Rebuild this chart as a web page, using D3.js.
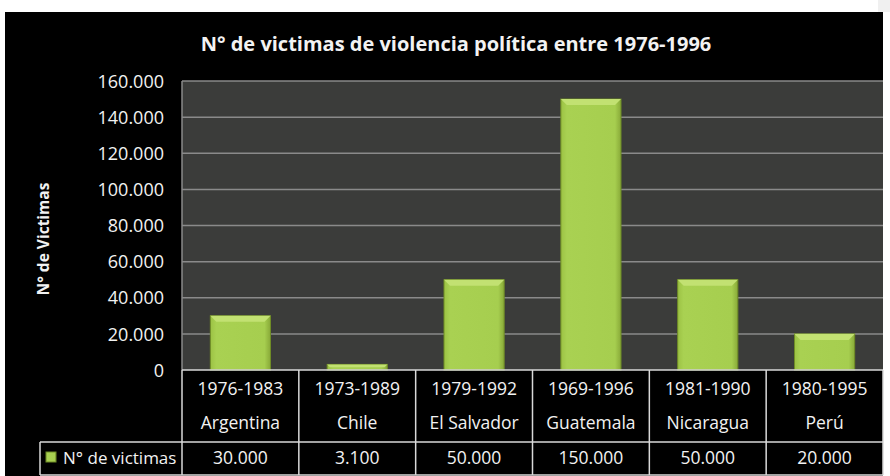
<!DOCTYPE html>
<html>
<head>
<meta charset="utf-8">
<script src="https://cdn.jsdelivr.net/npm/d3@7"></script>
<style>
  body { margin: 0; background: #fff; }
  svg text { font-family: "Open Sans", sans-serif; fill: #f2f2f2; }
</style>
</head>
<body>
<svg id="chart" width="890" height="476"></svg>
<script>
// data
let countries = ["Argentina", "Chile", "El Salvador", "Guatemala", "Nicaragua", "Perú"]
let periods = ["1976-1983", "1973-1989", "1979-1992", "1969-1996", "1981-1990", "1980-1995"]
let victims = [30000, 3100, 50000, 150000, 50000, 20000]
let yTicks = [0, 20000, 40000, 60000, 80000, 100000, 120000, 140000, 160000]
let seriesName = "N° de victimas"
let title = "N° de victimas de violencia política entre 1976-1996"
let yTitle = "N° de Victimas"

let svg = d3.select("#chart")

let plotLeft = 182, plotRight = 883, plotTop = 81, plotBottom = 370
let rowMid = 442, tableBottom = 475, legendLeft = 40

let loc = d3.formatLocale({decimal: ",", thousands: ".", grouping: [3], currency: ["", ""]})
let fmt = loc.format(",d")

// background
svg.append("rect").attr("x", 5).attr("y", 12).attr("width", 878).attr("height", 464).attr("fill", "#000")
svg.append("rect").attr("x", 878).attr("y", 0).attr("width", 12).attr("height", 12).attr("fill", "#f0f0f0")

let defs = svg.append("defs")
let grad = defs.append("linearGradient").attr("id", "barGrad").attr("x1", 0).attr("x2", 1).attr("y1", 0).attr("y2", 0)
grad.append("stop").attr("offset", "0%").attr("stop-color", "#9cc244")
grad.append("stop").attr("offset", "10%").attr("stop-color", "#a9d152")
grad.append("stop").attr("offset", "90%").attr("stop-color", "#a6ce4f")
grad.append("stop").attr("offset", "100%").attr("stop-color", "#88a938")

let colScale = d3.scaleBand().domain(countries).range([plotLeft, plotRight]).padding(0)
let xScale = d3.scaleBand().domain(countries).range([plotLeft, plotRight]).paddingInner(0.485).paddingOuter(0.2425)
let yScale = d3.scaleLinear().domain([0, 160000]).range([plotBottom, plotTop])

// plot area
svg.append("rect").attr("x", plotLeft).attr("y", plotTop).attr("width", plotRight - plotLeft).attr("height", plotBottom - plotTop)
   .attr("fill", "#3b3c3a")

svg.append("g").selectAll("line").data(yTicks.filter(d => d > 0)).join("line")
   .attr("x1", plotLeft).attr("x2", plotRight)
   .attr("y1", d => yScale(d)).attr("y2", d => yScale(d))
   .attr("stroke", "#8a8a8a").attr("stroke-width", 1.5)
svg.append("line").attr("x1", plotLeft).attr("x2", plotLeft).attr("y1", plotTop).attr("y2", plotBottom)
   .attr("stroke", "#8a8a8a").attr("stroke-width", 1.5)

// y axis labels
let yAxis = d3.axisLeft(yScale).tickValues(yTicks).tickFormat(fmt).tickSize(0).tickPadding(18)
let yg = svg.append("g").attr("transform", "translate(" + plotLeft + ",0)").call(yAxis)
yg.select(".domain").remove()
yg.selectAll("text").style("font-size", "18px").style("font-family", "'Open Sans', sans-serif").attr("fill", "#f2f2f2").attr("dy", "0.34em")

svg.append("text").text(yTitle).attr("transform", "translate(49,239) rotate(-90)")
   .attr("text-anchor", "middle").style("font-size", "15.5px").style("font-weight", "bold")

// title
svg.append("text").text(title).attr("x", 456).attr("y", 51).attr("text-anchor", "middle")
   .style("font-size", "20px").style("font-weight", "bold")

// bars
let rows = countries.map((c, i) => ({country: c, value: victims[i]}))
let bars = svg.append("g").selectAll("g").data(rows).join("g")
bars.append("rect")
    .attr("x", d => xScale(d.country)).attr("width", xScale.bandwidth())
    .attr("y", d => yScale(d.value)).attr("height", d => plotBottom - yScale(d.value))
    .attr("fill", "url(#barGrad)").attr("stroke", "#6f8c26").attr("stroke-width", 1)
// top bevel
bars.append("path")
    .attr("d", d => {
        let x0 = xScale(d.country), x1 = x0 + xScale.bandwidth(), y0 = yScale(d.value)
        let b = Math.min(6, (plotBottom - y0) / 2)
        return "M" + x0 + "," + y0 + "L" + x1 + "," + y0 + "L" + (x1 - b) + "," + (y0 + b) + "L" + (x0 + b) + "," + (y0 + b) + "Z"
    })
    .attr("fill", "#c2e172").attr("stroke", "none")

// table
let tbl = svg.append("g")
let lineC = "#d9d9d9"
tbl.append("line").attr("x1", plotLeft).attr("x2", plotRight).attr("y1", plotBottom).attr("y2", plotBottom).attr("stroke", lineC).attr("stroke-width", 1.5)
tbl.append("line").attr("x1", legendLeft).attr("x2", plotRight).attr("y1", rowMid).attr("y2", rowMid).attr("stroke", lineC).attr("stroke-width", 1.5)
tbl.append("line").attr("x1", legendLeft).attr("x2", plotRight).attr("y1", tableBottom).attr("y2", tableBottom).attr("stroke", lineC).attr("stroke-width", 1.5)
tbl.append("line").attr("x1", legendLeft).attr("x2", legendLeft).attr("y1", rowMid).attr("y2", tableBottom).attr("stroke", lineC).attr("stroke-width", 1.5)
tbl.selectAll("line.col").data(countries.concat(["end"])).join("line").attr("class", "col")
   .attr("x1", d => d === "end" ? plotRight : colScale(d)).attr("x2", d => d === "end" ? plotRight : colScale(d))
   .attr("y1", plotBottom).attr("y2", tableBottom).attr("stroke", lineC).attr("stroke-width", 1.5)

let cx = d => colScale(d) + colScale.bandwidth() / 2
tbl.selectAll("text.period").data(countries).join("text").attr("class", "period")
   .text((d, i) => periods[i]).attr("x", cx).attr("y", 395).attr("text-anchor", "middle").style("font-size", "17.5px")
tbl.selectAll("text.country").data(countries).join("text").attr("class", "country")
   .text(d => d).attr("x", cx).attr("y", 429).attr("text-anchor", "middle").style("font-size", "17.5px")
tbl.selectAll("text.value").data(rows).join("text").attr("class", "value")
   .text(d => fmt(d.value)).attr("x", d => cx(d.country)).attr("y", 464).attr("text-anchor", "middle").style("font-size", "17.5px")

// legend key
tbl.append("rect").attr("x", 46).attr("y", 452).attr("width", 10).attr("height", 10)
   .attr("fill", "url(#barGrad)").attr("stroke", "#6f8c26")
tbl.append("text").text(seriesName).attr("x", 63).attr("y", 464).style("font-size", "17px")
</script>
</body>
</html>
